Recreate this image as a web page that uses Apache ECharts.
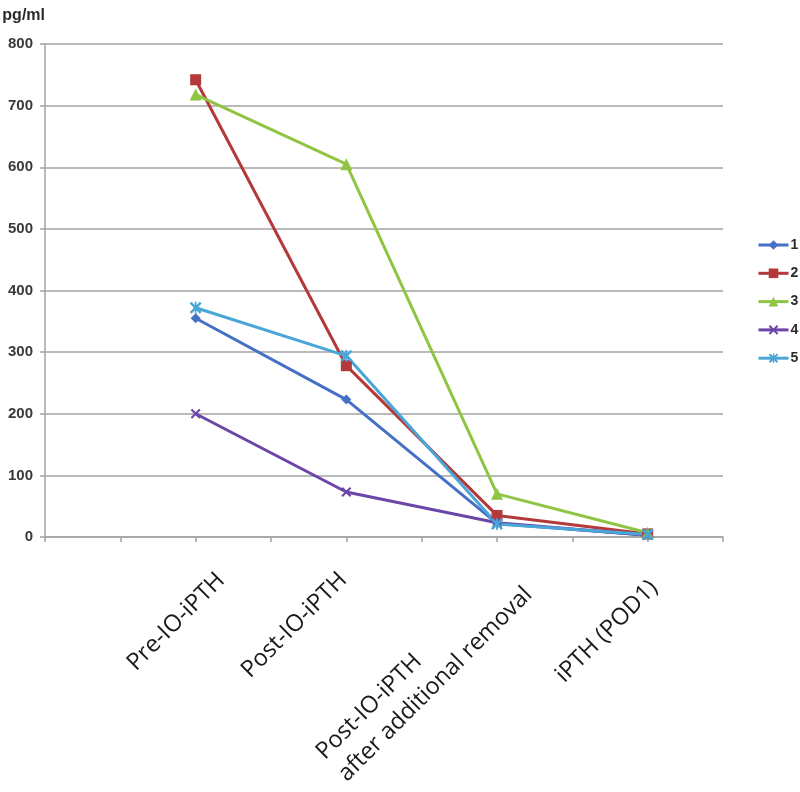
<!DOCTYPE html>
<html>
<head>
<meta charset="utf-8">
<script src="https://cdn.jsdelivr.net/npm/echarts@6/dist/echarts.min.js"></script>
<style>html,body{margin:0;padding:0;background:#fff;}#chart{width:800px;height:792px;}</style>
</head>
<body>
<div id="chart"></div>
<script>
// ---- data ----
const categories = ['Pre-IO-iPTH', 'Post-IO-iPTH', 'Post-IO-iPTH\nafter additional removal', 'iPTH (POD1)'];
const seriesNames = ['1', '2', '3', '4', '5'];
const patient1 = [355, 223, 22, 3];
const patient2 = [742, 278, 35, 5];
const patient3 = [718, 605, 70, 7];
const patient4 = [200, 73, 23, 3];
const patient5 = [372, 294, 21, 4];
const yTicks = { min: 0, max: 800, interval: 100 };
const yUnit = 'pg/ml';

// ---- styling ----
const colors = ['#4570C6', '#B3393A', '#90C443', '#6A46A8', '#4AA6D6'];
const symbols = [
  'diamond',
  'rect',
  'triangle',
  'path://M0,1.5L1.5,0L5,3.5L8.5,0L10,1.5L6.5,5L10,8.5L8.5,10L5,6.5L1.5,10L0,8.5L3.5,5Z',
  'path://M0,1.5L1.5,0L5,3.5L8.5,0L10,1.5L6.5,5L10,8.5L8.5,10L5,6.5L1.5,10L0,8.5L3.5,5Z M4.3,0L5.7,0L5.7,10L4.3,10Z'
];
const symbolSizes = [10, 11, 12, 10, 12];
// per-label padding (top, right) to mimic placement of the rotated labels
const labelPads = [[78, 3], [37, 23], [76, 9], [62, 22]];
const FONT = '"Liberation Sans", Arial, sans-serif';
const XFONT = '"Open Sans", "Liberation Sans", sans-serif';

const SLOTS = 10;
const axisData = [];
for (let i = 0; i < SLOTS; i++) axisData.push('');
categories.forEach((c, i) => {
  axisData[2 + 2 * i] = { value: c, textStyle: { padding: [labelPads[i][0], labelPads[i][1], 0, 0] } };
});
function spread(vals) {
  const arr = new Array(SLOTS).fill('-');
  vals.forEach((v, i) => { arr[2 + 2 * i] = v; });
  return arr;
}
const allData = [patient1, patient2, patient3, patient4, patient5];

const chart = echarts.init(document.getElementById('chart'), null, { renderer: 'canvas' });
chart.setOption({
  animation: false,
  backgroundColor: '#ffffff',
  grid: { left: 45, right: 77, top: 44, bottom: 255, outerBoundsMode: 'none', containLabel: false },
  legend: {
    orient: 'vertical',
    left: 757,
    top: 238,
    padding: 0,
    itemWidth: 30,
    itemHeight: 12,
    itemGap: 14.3,
    lineStyle: { width: 3 },
    textStyle: { fontFamily: FONT, fontSize: 14, fontWeight: 'bold', color: '#2a2a2a', padding: [0, 0, 0, -3] },
    data: seriesNames
  },
  xAxis: {
    type: 'category',
    boundaryGap: false,
    data: axisData,
    axisLine: { lineStyle: { color: '#a3a3a3', width: 1.5 } },
    axisTick: { show: true, interval: 0, length: 5, lineStyle: { color: '#a3a3a3', width: 1.5 } },
    axisLabel: {
      interval: 0,
      rotate: 45,
      margin: 10,
      fontFamily: XFONT,
      fontSize: 23.5,
      color: '#1a1a1a',
      formatter: v => v ? v.split('\n').map(s => '{l|' + s + '}').join('\n') : '',
      rich: { l: { align: 'left', fontFamily: XFONT, fontSize: 23.5, color: '#1a1a1a', lineHeight: 31 } }
    },
    splitLine: { show: false }
  },
  yAxis: {
    type: 'value',
    min: yTicks.min,
    max: yTicks.max,
    interval: yTicks.interval,
    name: yUnit,
    nameLocation: 'end',
    nameGap: 20,
    nameTextStyle: { fontFamily: FONT, fontSize: 16, fontWeight: 'bold', color: '#2a2a2a', align: 'right', padding: [0, 0, 0, 0] },
    axisLine: { show: true, lineStyle: { color: '#a3a3a3', width: 1.5 } },
    axisTick: { show: true, length: 5, lineStyle: { color: '#a3a3a3', width: 1.5 } },
    axisLabel: { margin: 12, fontFamily: FONT, fontSize: 15, fontWeight: 'bold', color: '#3a3a3a' },
    splitLine: { show: true, lineStyle: { color: '#a3a3a3', width: 1.5 } }
  },
  series: seriesNames.map((n, i) => ({
    name: n,
    type: 'line',
    data: spread(allData[i]),
    connectNulls: true,
    symbol: symbols[i],
    symbolSize: symbolSizes[i],
    showAllSymbol: true,
    color: colors[i],
    lineStyle: { width: 3, color: colors[i] },
    itemStyle: { color: colors[i] }
  }))
});
</script>
</body>
</html>
